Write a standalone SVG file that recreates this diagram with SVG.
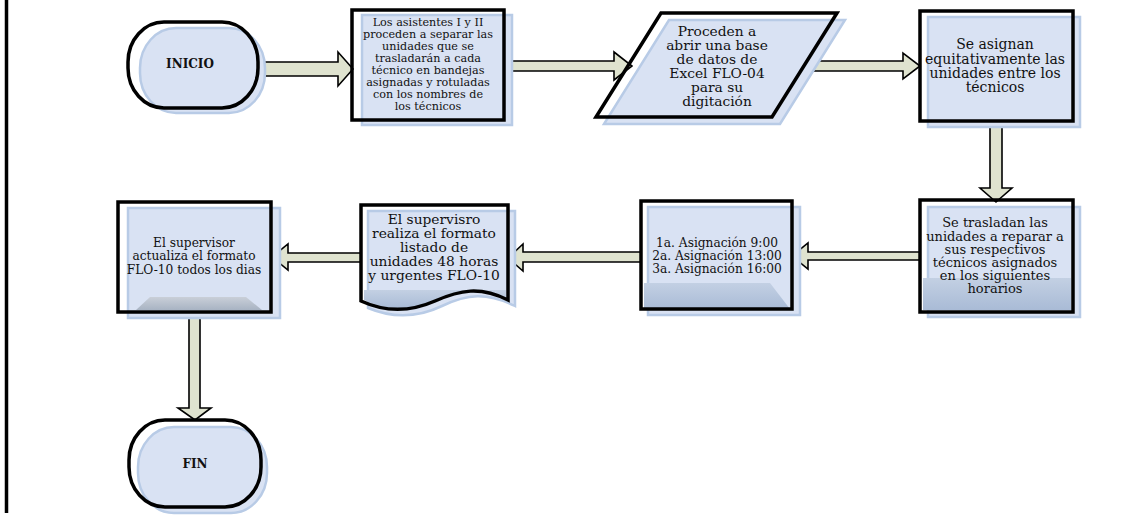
<svg xmlns="http://www.w3.org/2000/svg" width="1139" height="515" viewBox="0 0 1139 515">
<style>
.sh{fill:#d9e2f3;stroke:#b8cbe6;stroke-width:2.5}
.ol{fill:none;stroke:#000;stroke-width:3.5}
.ar{fill:#dfe3cf;stroke:#000;stroke-width:1.6;stroke-linejoin:miter}
text{font-family:"DejaVu Serif","Liberation Serif",serif;fill:#111;text-anchor:middle}
.b{font-weight:bold;font-size:12px}
</style>
<defs>
<linearGradient id="g1" x1="0" y1="0" x2="0" y2="1"><stop offset="0" stop-color="#c3d0e3"/><stop offset="1" stop-color="#a9bbd6"/></linearGradient>
<linearGradient id="g2" x1="0" y1="0" x2="0" y2="1"><stop offset="0" stop-color="#c9cfd8"/><stop offset="1" stop-color="#a8b3c3"/></linearGradient>
</defs>
<rect width="1139" height="515" fill="#fff"/>
<line x1="6.5" y1="0" x2="6.5" y2="513" stroke="#000" stroke-width="3.5"/>

<g id="connectors">
<path class="ar" d="M258,62 H338 V52 L353,69 L338,86 V76 H258 Z"/>
<path class="ar" d="M504,61 H614 V52 L632,66 L614,80 V71 H504 Z"/>
<path class="ar" d="M805,61 H903 V53 L920,66 L903,79 V71 H805 Z"/>
<path class="ar" d="M990,121 V188 H980 L996,202 L1012,188 H1002 V121 Z"/>
<path class="ar" d="M920,252 H808 V243 L792,256 L808,269 V260 H920 Z"/>
<path class="ar" d="M641,252 H523 V244 L508,258 L523,271 V262 H641 Z"/>
<path class="ar" d="M361,253 H288 V244 L272,257 L288,270 V262 H361 Z"/>
<path class="ar" d="M189,312 V408 H178 L195,420 L211,408 H200 V312 Z"/>
</g>

<g id="inicio">
<rect class="sh" x="140" y="28" width="125" height="85" rx="36" ry="40"/>
<rect class="ol" x="128" y="22" width="130" height="86" rx="36" ry="40"/>
<text class="b" x="190" y="68">INICIO</text>
</g>

<g id="box1">
<rect class="sh" x="362" y="15" width="150" height="110"/>
<rect class="ol" x="352" y="10" width="152" height="110"/>
<g font-size="11.2">
<text x="428" y="26">Los asistentes I y II</text>
<text x="428" y="38">proceden a separar las</text>
<text x="428" y="50">unidades que se</text>
<text x="428" y="62">trasladarán a cada</text>
<text x="428" y="74">técnico en bandejas</text>
<text x="428" y="86">asignadas y rotuladas</text>
<text x="428" y="98">con los nombres de</text>
<text x="428" y="110">los técnicos</text>
</g>
</g>

<g id="datos">
<polygon class="sh" points="669,20 845,20 780,124 604,124"/>
<polygon class="ol" points="661,13 837,13 772,117 596,117"/>
<g font-size="13.8">
<text x="717" y="36">Proceden a</text>
<text x="717" y="50">abrir una base</text>
<text x="717" y="64">de datos de</text>
<text x="717" y="78">Excel FLO-04</text>
<text x="717" y="92">para su</text>
<text x="717" y="106">digitación</text>
</g>
</g>

<g id="box3">
<rect class="sh" x="928" y="17" width="152" height="110"/>
<rect class="ol" x="920" y="11" width="153" height="110"/>
<g font-size="14">
<text x="995" y="49">Se asignan</text>
<text x="995" y="64">equitativamente las</text>
<text x="995" y="78">unidades entre los</text>
<text x="995" y="92">técnicos</text>
</g>
</g>

<g id="box4">
<rect class="sh" x="928" y="207" width="152" height="110"/>
<rect x="923" y="278" width="148" height="32" fill="url(#g1)"/>
<rect class="ol" x="920" y="200" width="153" height="112"/>
<g font-size="13">
<text x="995" y="227">Se trasladan las</text>
<text x="995" y="241">unidades a reparar a</text>
<text x="995" y="254">sus respectivos</text>
<text x="995" y="267">técnicos asignados</text>
<text x="995" y="280">en los siguientes</text>
<text x="995" y="293">horarios</text>
</g>
</g>

<g id="box5">
<rect class="sh" x="648" y="207" width="152" height="108"/>
<polygon points="644,283 770,283 790,309 644,309" fill="url(#g1)"/>
<rect class="ol" x="641" y="201" width="151" height="108"/>
<g font-size="12.2">
<text x="717" y="247">1a. Asignación 9:00</text>
<text x="717" y="260">2a. Asignación 13:00</text>
<text x="717" y="273">3a. Asignación 16:00</text>
</g>
</g>

<g id="doc">
<path class="sh" d="M368,211 H515 V306 C487,292 467,294 442,306 C417,318 392,318 368,308 Z"/>
<path d="M364,290 H506 V300 C480,287 460,290 437,300 C412,311 388,311 364,300 Z" fill="url(#g1)"/>
<path class="ol" d="M361,205 H508 V300 C480,286 460,290 435,301 C410,312 385,312 361,301 Z"/>
<g font-size="13.8">
<text x="434" y="224">El supervisro</text>
<text x="434" y="238">realiza el formato</text>
<text x="434" y="252">listado de</text>
<text x="434" y="266">unidades 48 horas</text>
<text x="434" y="280">y urgentes FLO-10</text>
</g>
</g>

<g id="box7">
<rect class="sh" x="128" y="208" width="152" height="110"/>
<polygon points="150,297 246,297 262,310 136,310" fill="url(#g2)"/>
<rect class="ol" x="118" y="202" width="153" height="110"/>
<g font-size="12.2">
<text x="194" y="247">El supervisor</text>
<text x="194" y="260">actualiza el formato</text>
<text x="194" y="274">FLO-10 todos los dias</text>
</g>
</g>

<g id="fin">
<rect class="sh" x="138" y="427" width="129" height="86" rx="36" ry="40"/>
<rect class="ol" x="129" y="420" width="132" height="87" rx="36" ry="40"/>
<text class="b" x="195" y="468" font-size="12.5">FIN</text>
</g>
</svg>
